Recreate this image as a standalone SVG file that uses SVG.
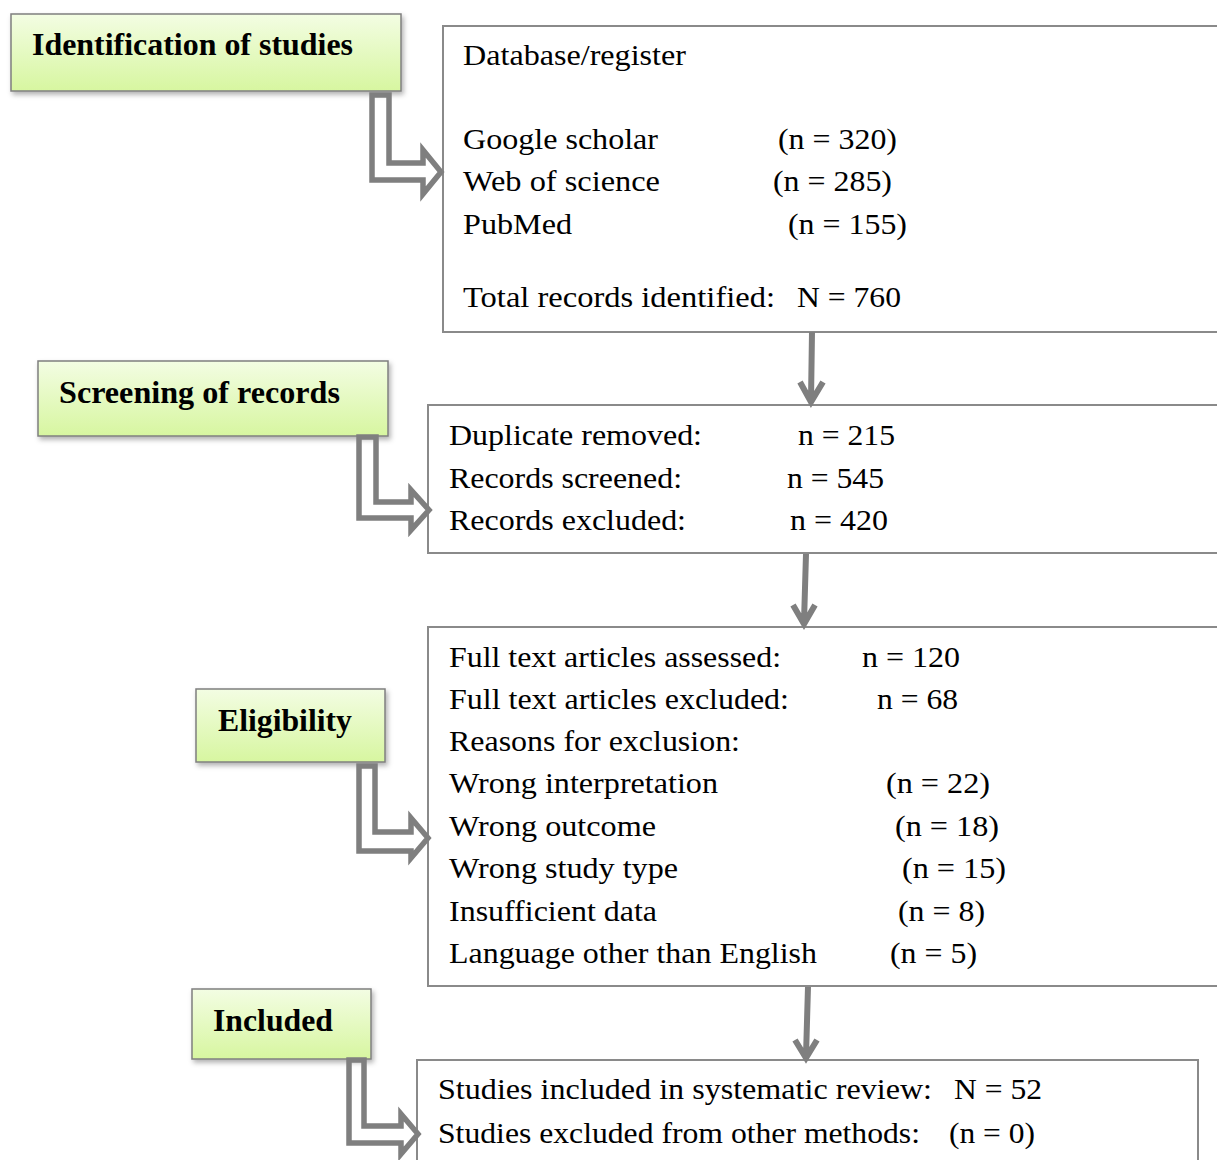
<svg xmlns="http://www.w3.org/2000/svg" width="1217" height="1160" viewBox="0 0 1217 1160">
<defs>
<linearGradient id="lg" x1="0" y1="0" x2="0" y2="1">
<stop offset="0" stop-color="#f3fde3"/>
<stop offset="1" stop-color="#d7f6a0"/>
</linearGradient>
<filter id="sh" x="-10%" y="-20%" width="130%" height="160%">
<feDropShadow dx="2" dy="3" stdDeviation="2.5" flood-color="#000" flood-opacity="0.3"/>
</filter>
</defs>
<style>
.lbl{fill:url(#lg);stroke:#7f7f7f;stroke-width:1.5;filter:url(#sh)}
.lt{font-family:'Liberation Serif','Times New Roman',Tinos,serif;font-weight:bold;font-size:32.5px;fill:#000}
.box{fill:#fff;stroke:#8a8a8a;stroke-width:2}
.t{font-family:'Liberation Serif','Times New Roman',Tinos,serif;font-size:29.5px;fill:#000}
.ha{fill:none;stroke:#7f7f7f;stroke-width:5.5;stroke-linejoin:miter}
.da{fill:none;stroke:#7f7f7f;stroke-width:6;stroke-linecap:butt;stroke-linejoin:miter}
</style>
<rect width="1217" height="1160" fill="#fff"/>

<g id="box-identification">
<rect class="box" x="443" y="26" width="800" height="306"/>
<text class="t" x="463" y="65" textLength="223" lengthAdjust="spacingAndGlyphs">Database/register</text>
<text class="t" x="463" y="149" textLength="195" lengthAdjust="spacingAndGlyphs">Google scholar</text>
<text class="t" x="778" y="149" textLength="119" lengthAdjust="spacingAndGlyphs">(n = 320)</text>
<text class="t" x="463" y="191" textLength="197" lengthAdjust="spacingAndGlyphs">Web of science</text>
<text class="t" x="773" y="191" textLength="119" lengthAdjust="spacingAndGlyphs">(n = 285)</text>
<text class="t" x="463" y="234" textLength="109" lengthAdjust="spacingAndGlyphs">PubMed</text>
<text class="t" x="788" y="234" textLength="119" lengthAdjust="spacingAndGlyphs">(n = 155)</text>
<text class="t" x="463" y="307" textLength="312" lengthAdjust="spacingAndGlyphs">Total records identified:</text>
<text class="t" x="797" y="307" textLength="104" lengthAdjust="spacingAndGlyphs">N = 760</text>
</g>

<g id="box-screening">
<rect class="box" x="428" y="405" width="800" height="148"/>
<text class="t" x="449" y="445" textLength="253" lengthAdjust="spacingAndGlyphs">Duplicate removed:</text>
<text class="t" x="798" y="445" textLength="97" lengthAdjust="spacingAndGlyphs">n = 215</text>
<text class="t" x="449" y="488" textLength="233" lengthAdjust="spacingAndGlyphs">Records screened:</text>
<text class="t" x="787" y="488" textLength="97" lengthAdjust="spacingAndGlyphs">n = 545</text>
<text class="t" x="449" y="530" textLength="237" lengthAdjust="spacingAndGlyphs">Records excluded:</text>
<text class="t" x="790" y="530" textLength="98" lengthAdjust="spacingAndGlyphs">n = 420</text>
</g>

<g id="box-eligibility">
<rect class="box" x="428" y="627" width="800" height="359"/>
<text class="t" x="449" y="667" textLength="332" lengthAdjust="spacingAndGlyphs">Full text articles assessed:</text>
<text class="t" x="862" y="667" textLength="98" lengthAdjust="spacingAndGlyphs">n = 120</text>
<text class="t" x="449" y="709" textLength="340" lengthAdjust="spacingAndGlyphs">Full text articles excluded:</text>
<text class="t" x="877" y="709" textLength="81" lengthAdjust="spacingAndGlyphs">n = 68</text>
<text class="t" x="449" y="751" textLength="291" lengthAdjust="spacingAndGlyphs">Reasons for exclusion:</text>
<text class="t" x="449" y="793" textLength="269" lengthAdjust="spacingAndGlyphs">Wrong interpretation</text>
<text class="t" x="886" y="793" textLength="104" lengthAdjust="spacingAndGlyphs">(n = 22)</text>
<text class="t" x="449" y="836" textLength="207" lengthAdjust="spacingAndGlyphs">Wrong outcome</text>
<text class="t" x="895" y="836" textLength="104" lengthAdjust="spacingAndGlyphs">(n = 18)</text>
<text class="t" x="449" y="878" textLength="229" lengthAdjust="spacingAndGlyphs">Wrong study type</text>
<text class="t" x="902" y="878" textLength="104" lengthAdjust="spacingAndGlyphs">(n = 15)</text>
<text class="t" x="449" y="921" textLength="208" lengthAdjust="spacingAndGlyphs">Insufficient data</text>
<text class="t" x="898" y="921" textLength="87" lengthAdjust="spacingAndGlyphs">(n = 8)</text>
<text class="t" x="449" y="963" textLength="368" lengthAdjust="spacingAndGlyphs">Language other than English</text>
<text class="t" x="890" y="963" textLength="87" lengthAdjust="spacingAndGlyphs">(n = 5)</text>
</g>

<g id="box-included">
<rect class="box" x="417" y="1060" width="781" height="120"/>
<text class="t" x="438" y="1099" textLength="494" lengthAdjust="spacingAndGlyphs">Studies included in systematic review:</text>
<text class="t" x="954" y="1099" textLength="88" lengthAdjust="spacingAndGlyphs">N = 52</text>
<text class="t" x="438" y="1143" textLength="482" lengthAdjust="spacingAndGlyphs">Studies excluded from other methods:</text>
<text class="t" x="949" y="1143" textLength="86" lengthAdjust="spacingAndGlyphs">(n = 0)</text>
</g>

<g id="label-identification">
<rect class="lbl" x="11" y="14" width="390" height="77"/>
<text class="lt" x="32" y="55" textLength="321" lengthAdjust="spacingAndGlyphs">Identification of studies</text>
</g>
<g id="label-screening">
<rect class="lbl" x="38" y="361" width="350" height="75"/>
<text class="lt" x="59" y="403" textLength="281" lengthAdjust="spacingAndGlyphs">Screening of records</text>
</g>
<g id="label-eligibility">
<rect class="lbl" x="196" y="689" width="189" height="73"/>
<text class="lt" x="218" y="731" textLength="134" lengthAdjust="spacingAndGlyphs">Eligibility</text>
</g>
<g id="label-included">
<rect class="lbl" x="192" y="989" width="179" height="70"/>
<text class="lt" x="213" y="1031" textLength="120" lengthAdjust="spacingAndGlyphs">Included</text>
</g>

<g id="connectors">
<polygon class="ha" points="372,95 389,95 389,163 423,163 423,150 441,172 423,194 423,180 372,180"/>
<polygon class="ha" points="359,437 376,437 376,502 411,502 411,490 429,510 411,530 411,518 359,518"/>
<polygon class="ha" points="359,766 375,766 375,832 411,832 411,818 428,838 411,858 411,851 359,851"/>
<polygon class="ha" points="349,1060 364,1060 364,1126 401,1126 401,1114 418,1134 401,1154 401,1143 349,1143"/>
<path class="da" d="M812,332 L811,400 M800,382 L811,402 L823,382"/>
<path class="da" d="M806,554 L804,622 M793,605 L804,624 L815,605"/>
<path class="da" d="M808,987 L806,1056 M795,1040 L806,1058 L817,1040"/>
</g>
</svg>
